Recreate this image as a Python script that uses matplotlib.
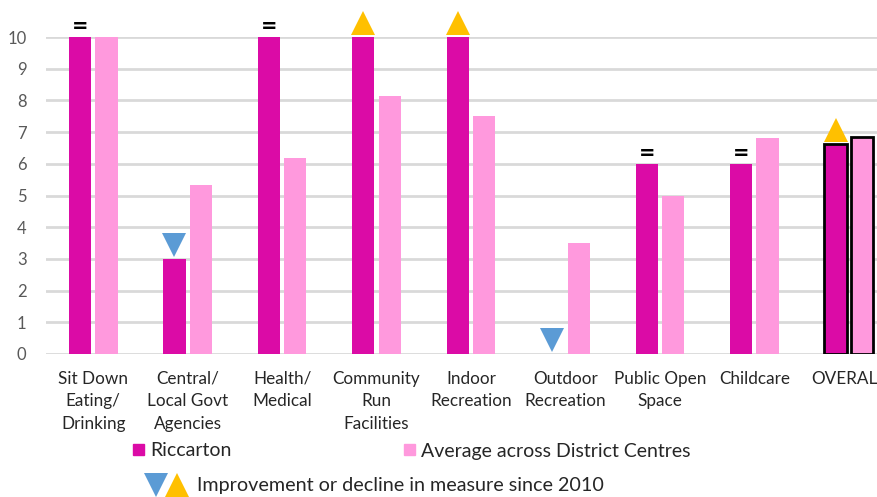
import matplotlib.pyplot as plt
import numpy as np
from matplotlib.lines import Line2D
from matplotlib.patches import Patch
from matplotlib.legend_handler import HandlerTuple

plt.rcParams['font.family'] = ['Lato', 'DejaVu Sans']

# Dados
categories = ['Sit Down\nEating/\nDrinking', 'Central/\nLocal Govt\nAgencies', 'Health/\nMedical',
              'Community\nRun\nFacilities', 'Indoor\nRecreation', 'Outdoor\nRecreation',
              'Public Open\nSpace', 'Childcare', 'OVERALL']
riccarton = [10, 3, 10, 10, 10, 0, 6, 6, 6.63]
average = [10, 5.33, 6.17, 8.15, 7.5, 3.5, 5.0, 6.8, 6.83]
# '=' sem mudança, 'up' melhoria, 'down' piora
change = ['=', 'down', '=', 'up', 'up', 'down', '=', '=', 'up']

c_ric = '#DB0BA6'
c_avg = '#FF99DD'
c_up = '#FFC000'
c_down = '#5B9BD5'
grey = '#595959'

fig = plt.figure(figsize=(8.78, 4.97), dpi=100)
ax = fig.add_axes([46 / 878, 1 - 354 / 497, 850 / 878, 317 / 497])

x = np.arange(len(categories))
w = 0.235
off = 0.14
edge_r = ['none'] * 8 + ['black']
lw = [0] * 8 + [2]
b1 = ax.bar(x - off, riccarton, w, color=c_ric, edgecolor=edge_r, linewidth=lw, zorder=3)
b2 = ax.bar(x + off, average, w, color=c_avg, edgecolor=edge_r, linewidth=lw, zorder=3)

for i, c in enumerate(change):
    top = riccarton[i]
    if c == '=':
        ax.text(x[i] - off, top + 0.02, '=', ha='center', va='bottom', fontsize=14,
                fontweight='bold', color='black', family='DejaVu Sans', zorder=4)
    elif c == 'up':
        ax.plot(x[i] - off, top + 0.45, marker='^', markersize=17, color=c_up,
                markeredgewidth=0, zorder=4, clip_on=False)
    else:
        ax.plot(x[i] - off, top + 0.45, marker='v', markersize=17, color=c_down,
                markeredgewidth=0, zorder=4, clip_on=False)

ax.set_xlim(-0.5, len(categories) - 0.5)
ax.set_ylim(0, 10)
ax.set_yticks(range(0, 11))
ax.grid(axis='y', color='#D9D9D9', linewidth=2, zorder=0)
ax.set_axisbelow(True)
for s in ax.spines.values():
    s.set_visible(False)
ax.tick_params(axis='y', length=0, labelsize=12, colors=grey, pad=14)
ax.tick_params(axis='x', length=0, labelsize=12.3, pad=12)
ax.set_xticks(x)
ax.set_xticklabels(categories, linespacing=1.5)
for lab in ax.get_yticklabels():
    lab.set_color(grey)
for lab in ax.get_xticklabels():
    lab.set_color('#262626')

# Legenda
h1 = Patch(color=c_ric)
h2 = Patch(color=c_avg)
fig.legend([h1, h2], ['Riccarton', 'Average across District Centres'], ncol=2,
           loc='center left', bbox_to_anchor=(116 / 878, 1 - 451 / 497), frameon=False,
           fontsize=14, handlelength=0.55, handleheight=0.55, handletextpad=0.3,
           columnspacing=8.9, labelcolor='#262626')
tri = (Line2D([], [], marker='v', color=c_down, markersize=17, linestyle='none', markeredgewidth=0),
       Line2D([], [], marker='^', color=c_up, markersize=17, linestyle='none', markeredgewidth=0))
fig.legend([tri], ['Improvement or decline in measure since 2010'],
           handler_map={tuple: HandlerTuple(ndivide=None, pad=0.0)},
           loc='center left', bbox_to_anchor=(128 / 878, 1 - 486 / 497), frameon=False,
           fontsize=14.2, handlelength=2.1, handletextpad=0.5, labelcolor='#262626')

fig.savefig('out.png', dpi=100)
